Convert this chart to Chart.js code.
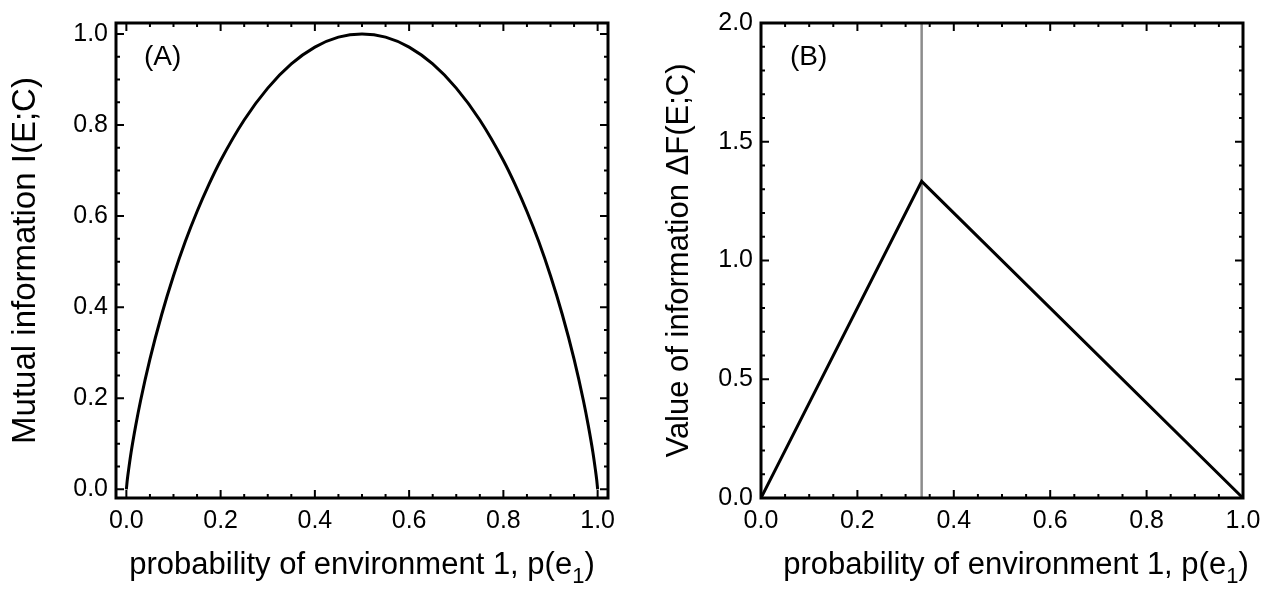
<!DOCTYPE html>
<html>
<head>
<meta charset="utf-8">
<script src="https://cdn.jsdelivr.net/npm/chart.js@4.4.0/dist/chart.umd.min.js"></script>
<style>
  body { margin: 0; background: #fff; }
  .panel { position: absolute; top: 0; height: 590px; }
  #panelA { left: 0; width: 640px; }
  #panelB { left: 640px; width: 636px; }
</style>
</head>
<body>
<div class="panel" id="panelA"><canvas id="chartA"></canvas></div>
<div class="panel" id="panelB"><canvas id="chartB"></canvas></div>
<script>
// panel A: mutual information vs p(e1)
const probA = [0, 0.001, 0.002, 0.005, 0.01, 0.02, 0.03, 0.05, 0.075, 0.1, 0.125, 0.15, 0.175, 0.2, 0.25, 0.3, 0.35, 0.4, 0.45, 0.5,
  0.55, 0.6, 0.65, 0.7, 0.75, 0.8, 0.825, 0.85, 0.875, 0.9, 0.925, 0.95, 0.97, 0.98, 0.99, 0.995, 0.998, 0.999, 1];
const mutualInfo = [0, 0.011, 0.021, 0.045, 0.081, 0.141, 0.194, 0.286, 0.384, 0.469, 0.544, 0.61, 0.669, 0.722, 0.811, 0.881, 0.934, 0.971, 0.993, 1,
  0.993, 0.971, 0.934, 0.881, 0.811, 0.722, 0.669, 0.61, 0.544, 0.469, 0.384, 0.286, 0.194, 0.141, 0.081, 0.045, 0.021, 0.011, 0];

// panel B: value of information vs p(e1)
const probB = [0, 0.3333, 1];
const valueInfo = [0, 1.3333, 0];
const thresholdX = [0.3333, 0.3333];
const thresholdY = [0, 2];

// tick values
const xMajor = [0, 0.2, 0.4, 0.6, 0.8, 1];
const xMinor = [0.05, 0.1, 0.15, 0.25, 0.3, 0.35, 0.45, 0.5, 0.55, 0.65, 0.7, 0.75, 0.85, 0.9, 0.95];
const yMajorA = [0, 0.2, 0.4, 0.6, 0.8, 1];
const yMinorA = [0.05, 0.1, 0.15, 0.25, 0.3, 0.35, 0.45, 0.5, 0.55, 0.65, 0.7, 0.75, 0.85, 0.9, 0.95];
const yMajorB = [0, 0.5, 1, 1.5, 2];
const yMinorB = [0.1, 0.2, 0.3, 0.4, 0.6, 0.7, 0.8, 0.9, 1.1, 1.2, 1.3, 1.4, 1.6, 1.7, 1.8, 1.9];

const FONT = '"Liberation Sans", Arial, Helvetica, sans-serif';

function toPoints(xs, ys) {
  return xs.map((x, i) => ({ x: x, y: ys[i] }));
}

// frame, inward ticks, panel letter and the x title with subscript
const framePlugin = {
  id: "frame",
  afterDatasetsDraw(chart, args, opts) {
    const { ctx, chartArea: a, scales } = chart;
    ctx.save();
    ctx.strokeStyle = "#000";
    ctx.lineWidth = 2;
    function xTicks(vals, len) {
      vals.forEach((v) => {
        const px = scales.x.getPixelForValue(v);
        ctx.beginPath();
        ctx.moveTo(px, a.bottom);
        ctx.lineTo(px, a.bottom - len);
        ctx.moveTo(px, a.top);
        ctx.lineTo(px, a.top + len);
        ctx.stroke();
      });
    }
    function yTicks(vals, len) {
      vals.forEach((v) => {
        const py = scales.y.getPixelForValue(v);
        ctx.beginPath();
        ctx.moveTo(a.left, py);
        ctx.lineTo(a.left + len, py);
        ctx.moveTo(a.right, py);
        ctx.lineTo(a.right - len, py);
        ctx.stroke();
      });
    }
    xTicks(opts.xMajor, 8);
    xTicks(opts.xMinor, 4);
    yTicks(opts.yMajor, 8);
    yTicks(opts.yMinor, 4);
    ctx.lineWidth = 3;
    ctx.strokeRect(a.left, a.top, a.right - a.left, a.bottom - a.top);
    ctx.restore();
  },
  afterDraw(chart, args, opts) {
    const ctx = chart.ctx;
    ctx.save();
    ctx.fillStyle = "#000";
    ctx.textBaseline = "middle";
    ctx.textAlign = "left";
    ctx.font = "28px " + FONT;
    ctx.fillText(opts.letter, opts.letterX, 57);

    // x title: probability of environment 1, p(e_1)
    ctx.textBaseline = "alphabetic";
    const main = "probability of environment 1, p(e";
    const sub = "1";
    const close = ")";
    ctx.font = "31px " + FONT;
    const w1 = ctx.measureText(main).width;
    const w3 = ctx.measureText(close).width;
    ctx.font = "22px " + FONT;
    const w2 = ctx.measureText(sub).width;
    let x = opts.titleX - (w1 + w2 + w3) / 2;
    ctx.font = "31px " + FONT;
    ctx.fillText(main, x, 574);
    x += w1;
    ctx.font = "22px " + FONT;
    ctx.fillText(sub, x, 583);
    x += w2;
    ctx.font = "31px " + FONT;
    ctx.fillText(close, x, 574);
    ctx.restore();
  },
};

function makeOptions(cfg) {
  return {
    responsive: true,
    maintainAspectRatio: false,
    animation: false,
    layout: { padding: { left: 0, top: cfg.top, right: cfg.right, bottom: 0 } },
    plugins: {
      legend: { display: false },
      tooltip: { enabled: false },
      frame: cfg.frame,
    },
    scales: {
      x: {
        type: "linear",
        min: cfg.xMin,
        max: cfg.xMax,
        grid: { display: false, drawTicks: false, tickLength: 0 },
        border: { display: false },
        afterBuildTicks: (axis) => {
          axis.ticks = xMajor.map((v) => ({ value: v }));
        },
        afterFit: (axis) => {
          axis.height = 92;
        },
        ticks: {
          padding: 8,
          color: "#000",
          font: { family: FONT, size: 25 },
          maxRotation: 0,
          callback: (v) => Number(v).toFixed(1),
        },
      },
      y: {
        type: "linear",
        min: cfg.yMin,
        max: cfg.yMax,
        grid: { display: false, drawTicks: false, tickLength: 0 },
        border: { display: false },
        afterBuildTicks: (axis) => {
          axis.ticks = cfg.yMajor.map((v) => ({ value: v }));
        },
        afterFit: (axis) => {
          axis.width = cfg.yWidth;
        },
        ticks: {
          padding: 8,
          color: "#000",
          font: { family: FONT, size: 25 },
          callback: (v) => Number(v).toFixed(1),
        },
        title: {
          display: true,
          text: cfg.yTitle,
          color: "#000",
          font: { family: FONT, size: cfg.yTitleSize },
          padding: { top: cfg.yTitlePad, bottom: 0 },
        },
      },
    },
  };
}

document.addEventListener("DOMContentLoaded", function () {
  new Chart(document.getElementById("chartA").getContext("2d"), {
    type: "scatter",
    data: {
      datasets: [
        {
          data: toPoints(probA, mutualInfo),
          showLine: true,
          borderColor: "#000",
          borderWidth: 3,
          pointRadius: 0,
          cubicInterpolationMode: "monotone",
          fill: false,
        },
      ],
    },
    options: makeOptions({
      top: 5,
      right: 32,
      yWidth: 116,
      xMin: -0.022,
      xMax: 1.022,
      yMin: -0.019,
      yMax: 1.024,
      yMajor: yMajorA,
      yTitle: "Mutual information I(E;C)",
      yTitleSize: 33,
      yTitlePad: 6,
      frame: { xMajor: xMajor, xMinor: xMinor, yMajor: yMajorA, yMinor: yMinorA, letter: "(A)", letterX: 144, titleX: 362 },
    }),
    plugins: [framePlugin],
  });

  new Chart(document.getElementById("chartB").getContext("2d"), {
    type: "scatter",
    data: {
      datasets: [
        {
          data: toPoints(probB, valueInfo),
          showLine: true,
          borderColor: "#000",
          borderWidth: 3,
          pointRadius: 0,
          fill: false,
        },
        {
          data: toPoints(thresholdX, thresholdY),
          showLine: true,
          borderColor: "#8c8c8c",
          borderWidth: 2.5,
          pointRadius: 0,
          fill: false,
        },
      ],
    },
    options: makeOptions({
      top: 16,
      right: 33,
      yWidth: 121,
      xMin: 0,
      xMax: 1,
      yMin: 0,
      yMax: 2,
      yMajor: yMajorB,
      yTitle: "Value of information \u0394F(E;C)",
      yTitleSize: 31,
      yTitlePad: 21,
      frame: { xMajor: xMajor, xMinor: xMinor, yMajor: yMajorB, yMinor: yMinorB, letter: "(B)", letterX: 150, titleX: 376 },
    }),
    plugins: [framePlugin],
  });
});
</script>
</body>
</html>
